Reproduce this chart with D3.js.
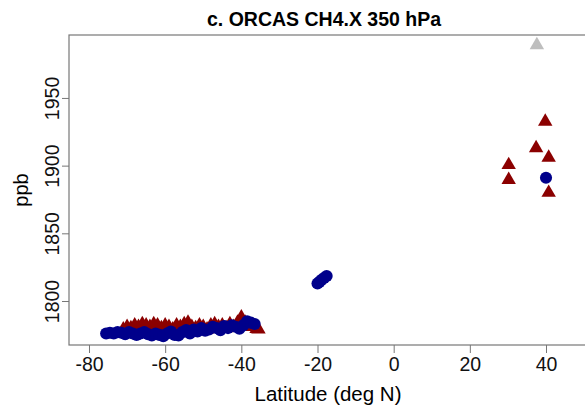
<!DOCTYPE html>
<html>
<head>
<meta charset="utf-8">
<script src="https://cdn.jsdelivr.net/npm/d3@7"></script>
<style>
  body { margin: 0; background: #fff; }
  text { font-family: "Liberation Sans", Arial, sans-serif; }
</style>
</head>
<body>
<svg id="chart" width="585" height="408"></svg>
<script>
// blue circles (south + tropics + north)
var blueLat = [-75.5, -74.5, -73.5, -72.5, -71.5, -70.5, -69.5, -68.5, -67.5, -66.5,
  -65.5, -64.5, -63.5, -62.5, -61.5, -60.5, -59.5, -58.5, -57.5, -56.5,
  -55.5, -54.5, -53.5, -52.5, -51.5, -50.5, -49.5, -48.5, -47.5, -46.5,
  -45.5, -44.5, -43.5, -42.5, -41.5, -40.5, -39.5, -38.5, -37.5, -36.5,
  -20, -19.5, -19, -18.3, -17.6, 40];
var bluePpb = [1776, 1776.5, 1776, 1777, 1776.5, 1775.5, 1777, 1776, 1775, 1776,
  1777, 1775.5, 1774.5, 1776, 1775, 1774, 1776, 1777.5, 1775, 1774.5,
  1777, 1778.5, 1776, 1779, 1777.5, 1780, 1778, 1779, 1781, 1780,
  1778.5, 1781.5, 1780, 1782, 1781, 1779.5, 1782, 1785, 1784, 1783,
  1813, 1814, 1815.5, 1817, 1818.5, 1891];

// red triangles
var redLat = [-71, -70, -69, -68, -67, -66, -65, -64, -63, -62,
  -61, -60, -59, -58, -57, -56, -55, -54, -53, -52,
  -51, -50, -49, -48, -47, -46, -45, -44, -43, -42,
  -41, -40, -39, -38, -37, -36, -35.5,
  30.2, 30.2, 37.4, 39.8, 40.7, 40.7];
var redPpb = [1779, 1781, 1780, 1782, 1781, 1783, 1782, 1781, 1783, 1782,
  1780, 1782, 1781, 1779, 1782, 1781, 1783, 1784, 1781, 1780,
  1782, 1781, 1779, 1782, 1783, 1781, 1782, 1780, 1783, 1781,
  1784, 1788, 1784, 1782, 1781, 1779.5, 1779,
  1900.5, 1889.5, 1913, 1932.5, 1906, 1880];

// gray triangle
var grayLat = [37.6];
var grayPpb = [1989];

var xTicks = [-80, -60, -40, -20, 0, 20, 40];
var yTicks = [1800, 1850, 1900, 1950];

var pLeft = 69, pRight = 586, pTop = 35, pBottom = 345;

var svg = d3.select("#chart");

var x = d3.scaleLinear().domain([-85.25, 50.5]).range([pLeft, pRight]);
var y = d3.scaleLinear().domain([1767.5, 1996.5]).range([pBottom, pTop]);

svg.append("rect")
  .attr("x", pLeft).attr("y", pTop)
  .attr("width", pRight - pLeft + 5).attr("height", pBottom - pTop)
  .attr("fill", "none").attr("stroke", "#777").attr("stroke-width", 1.2);

var xAxis = svg.append("g")
  .attr("transform", "translate(0," + pBottom + ")")
  .call(d3.axisBottom(x).tickValues(xTicks).tickSize(8).tickPadding(4)
    .tickFormat(function(d) { return String(d); }));
xAxis.select(".domain").remove();
xAxis.selectAll("line").attr("stroke", "#777");
xAxis.selectAll("text").attr("font-size", 19.5).attr("fill", "#111");

var yAxis = svg.append("g")
  .attr("transform", "translate(" + pLeft + ",0)")
  .call(d3.axisLeft(y).tickValues(yTicks).tickSize(7)
    .tickFormat(function(d) { return String(d); }));
yAxis.select(".domain").remove();
yAxis.selectAll("line").attr("stroke", "#777");
yAxis.selectAll("text")
  .attr("font-size", 19.5).attr("fill", "#111")
  .attr("x", null).attr("dy", null)
  .attr("text-anchor", "middle")
  .attr("transform", "translate(-10,0) rotate(-90)");

svg.append("text")
  .attr("x", 324).attr("y", 26)
  .attr("text-anchor", "middle").attr("font-size", 19.5).attr("font-weight", "bold")
  .text("c. ORCAS CH4.X 350 hPa");

svg.append("text")
  .attr("x", 328).attr("y", 401)
  .attr("text-anchor", "middle").attr("font-size", 20.5)
  .text("Latitude (deg N)");

svg.append("text")
  .attr("transform", "translate(28," + ((pTop + pBottom) / 2) + ") rotate(-90)")
  .attr("text-anchor", "middle").attr("font-size", 20)
  .text("ppb");

var tri = d3.symbol().type(d3.symbolTriangle).size(90);
var circ = d3.symbol().type(d3.symbolCircle).size(115);

svg.append("g").selectAll("path")
  .data(d3.zip(grayLat, grayPpb))
  .enter().append("path")
  .attr("d", tri)
  .attr("transform", function(d) { return "translate(" + x(d[0]) + "," + y(d[1]) + ")"; })
  .attr("fill", "#bebebe");

svg.append("g").selectAll("path")
  .data(d3.zip(redLat, redPpb))
  .enter().append("path")
  .attr("d", tri)
  .attr("transform", function(d) { return "translate(" + x(d[0]) + "," + y(d[1]) + ")"; })
  .attr("fill", "#8b0000");

svg.append("g").selectAll("path")
  .data(d3.zip(blueLat, bluePpb))
  .enter().append("path")
  .attr("d", circ)
  .attr("transform", function(d) { return "translate(" + x(d[0]) + "," + y(d[1]) + ")"; })
  .attr("fill", "#00008b");
</script>
</body>
</html>
